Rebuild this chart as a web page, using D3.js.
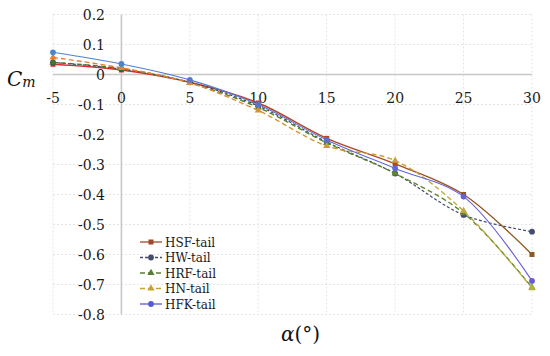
<!DOCTYPE html>
<html>
<head>
<meta charset="utf-8">
<script src="https://cdn.jsdelivr.net/npm/d3@7"></script>
<style>
  body { margin: 0; background: #fff; }
  svg { display: block; }
</style>
</head>
<body>
<script>
// data
const alpha = [-5, 0, 5, 10, 15, 20, 25, 30];
const hsfTail = [0.034, 0.015, -0.026, -0.095, -0.213, -0.298, -0.400, -0.600];
const hwTail  = [0.040, 0.018, -0.026, -0.105, -0.225, -0.330, -0.468, -0.524];
const hrfTail = [0.040, 0.020, -0.028, -0.110, -0.228, -0.330, -0.462, -0.710];
const hnTail  = [0.057, 0.022, -0.028, -0.120, -0.238, -0.287, -0.455, -0.712];
const hfkTail = [0.074, 0.035, -0.018, -0.100, -0.218, -0.313, -0.407, -0.688];
const yTicks = [0.2, 0.1, 0, -0.1, -0.2, -0.3, -0.4, -0.5, -0.6, -0.7, -0.8];
const xTicks = [-5, 0, 5, 10, 15, 20, 25, 30];

const series = [
  { name: 'HSF-tail', values: hsfTail, from: '#e8262e', to: '#8c5a1e', legend: '#a0482a', dash: null, marker: 'square', width: 1.4 },
  { name: 'HW-tail',  values: hwTail,  from: '#3c4766', to: '#444c70', legend: '#454d6e', dash: '3,2', marker: 'circle', width: 1.2 },
  { name: 'HRF-tail', values: hrfTail, from: '#3f7a2c', to: '#6b8c2a', legend: '#5a7d35', dash: '5,3', marker: 'triangle', width: 1.4 },
  { name: 'HN-tail',  values: hnTail,  from: '#f07a30', to: '#b8b040', legend: '#c8a034', dash: '5,3', marker: 'triangle', width: 1.4 },
  { name: 'HFK-tail', values: hfkTail, from: '#4a86d0', to: '#6a5ad6', legend: '#5a5ad0', dash: null, marker: 'circle', width: 1.1 }
];

const width = 550, height = 356;
const svg = d3.select('body').append('svg')
  .attr('width', width)
  .attr('height', height);

const x = d3.scaleLinear().domain([-5, 30]).range([53, 532]);
const y = d3.scaleLinear().domain([-0.8, 0.2]).range([314.5, 14.5]);

// gridlines
svg.append('g').selectAll('line')
  .data(yTicks.filter(d => d !== 0))
  .enter().append('line')
  .attr('x1', x(-5)).attr('x2', x(30))
  .attr('y1', d => y(d)).attr('y2', d => y(d))
  .attr('stroke', '#dedede').attr('stroke-width', 0.8).attr('stroke-dasharray', '2,2');
svg.append('g').selectAll('line')
  .data(xTicks.filter(d => d !== 0))
  .enter().append('line')
  .attr('x1', d => x(d)).attr('x2', d => x(d))
  .attr('y1', y(0.2)).attr('y2', y(-0.8))
  .attr('stroke', '#dedede').attr('stroke-width', 0.8).attr('stroke-dasharray', '2,2');

// axes lines through zero
svg.append('line')
  .attr('x1', x(-5)).attr('x2', x(30)).attr('y1', y(0)).attr('y2', y(0))
  .attr('stroke', '#c8c8c8').attr('stroke-width', 1.6);
svg.append('line')
  .attr('x1', x(0)).attr('x2', x(0)).attr('y1', y(0.2)).attr('y2', y(-0.8))
  .attr('stroke', '#c8c8c8').attr('stroke-width', 1.6);

// tick labels
const font = 'DejaVu Serif, serif';
svg.append('g').selectAll('text')
  .data(yTicks)
  .enter().append('text')
  .attr('x', 105).attr('y', d => y(d) + 5.5)
  .attr('text-anchor', 'end')
  .attr('font-family', font).attr('font-size', 14).attr('fill', '#1a1a1a')
  .text(d => d === 0 ? '0' : d.toFixed(1));
svg.append('g').selectAll('text')
  .data(xTicks)
  .enter().append('text')
  .attr('x', d => x(d)).attr('y', 103)
  .attr('text-anchor', 'middle')
  .attr('font-family', font).attr('font-size', 14).attr('fill', '#1a1a1a')
  .text(d => d);

// axis titles
const cm = svg.append('text').attr('x', 7).attr('y', 86)
  .attr('font-family', font).attr('font-style', 'italic').attr('fill', '#111');
cm.append('tspan').attr('font-size', 20).text('C');
cm.append('tspan').attr('font-size', 14).attr('dy', 1).text('m');

const al = svg.append('text').attr('x', 281).attr('y', 341)
  .attr('font-family', font).attr('fill', '#111').attr('font-size', 20);
al.append('tspan').attr('font-style', 'italic').text('α');
al.append('tspan').text('(°)');

// gradients along x
const defs = svg.append('defs');
series.forEach((s, i) => {
  const g = defs.append('linearGradient')
    .attr('id', 'grad' + i)
    .attr('gradientUnits', 'userSpaceOnUse')
    .attr('x1', x(-5)).attr('x2', x(30)).attr('y1', 0).attr('y2', 0);
  g.append('stop').attr('offset', '0%').attr('stop-color', s.from);
  g.append('stop').attr('offset', '100%').attr('stop-color', s.to);
});

const line = d3.line()
  .x((d, i) => x(alpha[i]))
  .y(d => y(d))
  .curve(d3.curveCatmullRom.alpha(0.5));

const colorAt = (s, i) => d3.interpolateRgb(s.from, s.to)(i / (alpha.length - 1));

const drawMarker = (sel, type, size, color) => {
  if (type === 'circle') {
    sel.append('circle').attr('r', size / 2 + 0.4).attr('fill', color);
  } else if (type === 'square') {
    sel.append('rect').attr('x', -size / 2).attr('y', -size / 2)
      .attr('width', size).attr('height', size).attr('fill', color);
  } else {
    sel.append('path').attr('d', d3.symbol().type(d3.symbolTriangle).size(size * size * 0.9)).attr('fill', color);
  }
};

series.forEach((s, i) => {
  const gr = svg.append('g');
  gr.append('path')
    .datum(s.values)
    .attr('d', line)
    .attr('fill', 'none')
    .attr('stroke', 'url(#grad' + i + ')')
    .attr('stroke-width', s.width)
    .attr('stroke-dasharray', s.dash);
  s.values.forEach((v, j) => {
    const m = gr.append('g').attr('transform', `translate(${x(alpha[j])},${y(v)})`);
    drawMarker(m, s.marker, 5, colorAt(s, j));
  });
});

// legend
const legend = svg.append('g').attr('transform', 'translate(140,242)');
series.forEach((s, i) => {
  const row = legend.append('g').attr('transform', `translate(0,${i * 15.5})`);
  row.append('line').attr('x1', 0).attr('x2', 22).attr('y1', 0).attr('y2', 0)
    .attr('stroke', s.legend).attr('stroke-width', 1.3).attr('stroke-dasharray', s.dash);
  const m = row.append('g').attr('transform', 'translate(11,0)');
  drawMarker(m, s.marker, 5, s.legend);
  row.append('text').attr('x', 25).attr('y', 4.5)
    .attr('font-family', font).attr('font-size', 12).attr('fill', '#1a1a1a')
    .text(s.name);
});
</script>
</body>
</html>
